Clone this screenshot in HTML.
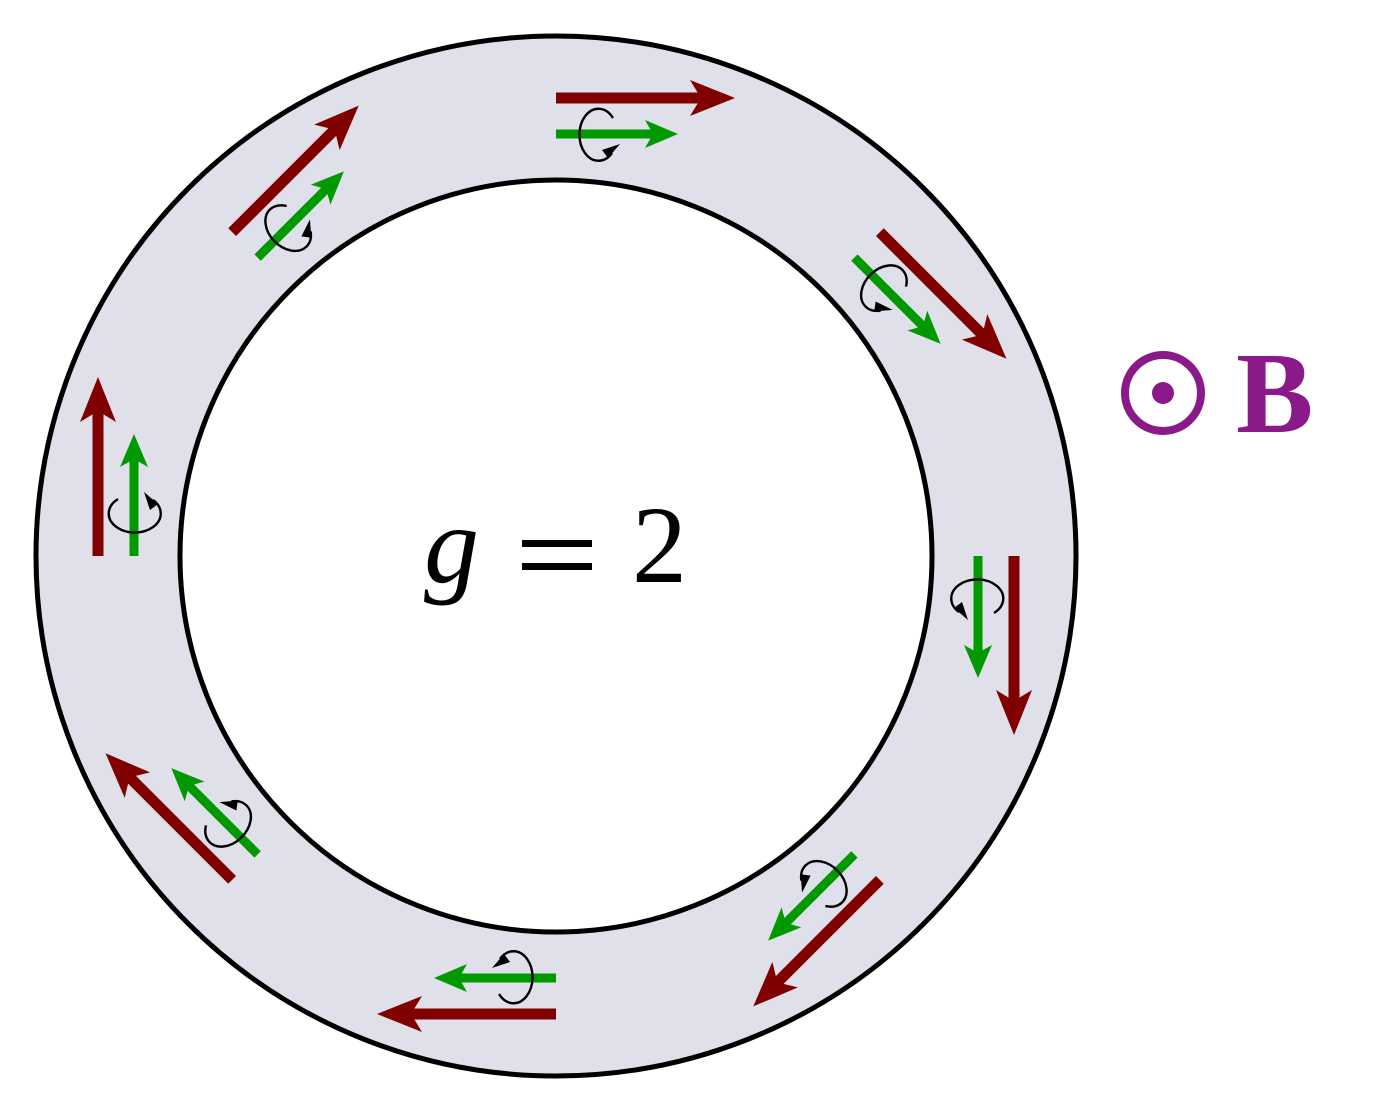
<!DOCTYPE html>
<html><head><meta charset="utf-8"><style>html,body{margin:0;padding:0;background:#fff}svg{display:block}</style></head>
<body>
<svg width="1400" height="1113" viewBox="0 0 1400 1113" xmlns="http://www.w3.org/2000/svg">
<defs>
<g id="grp">
  <line x1="0" y1="-458" x2="150" y2="-458" stroke="#800000" stroke-width="11"/>
  <polygon points="179,-458 134,-440 145,-458 134,-476" fill="#800000"/>
  <line x1="0" y1="-422" x2="100" y2="-422" stroke="#009900" stroke-width="9"/>
  <polygon points="122,-422 89,-408 97,-422 89,-436" fill="#009900"/>
  <path d="M 57 -438 A 19 26 0 1 0 56 -403" fill="none" stroke="#000" stroke-width="2.4"/>
  <polygon points="64,-412 52,-398 46,-406" fill="#000"/>
</g>
</defs>
<circle cx="556" cy="556" r="520" fill="#dfe0ea" stroke="#000" stroke-width="5"/>
<circle cx="556" cy="556" r="376" fill="#fff" stroke="#000" stroke-width="5"/>
<g transform="translate(556,556)">
  <use href="#grp"/>
  <use href="#grp" transform="rotate(45)"/>
  <use href="#grp" transform="rotate(90)"/>
  <use href="#grp" transform="rotate(135)"/>
  <use href="#grp" transform="rotate(180)"/>
  <use href="#grp" transform="rotate(225)"/>
  <use href="#grp" transform="rotate(270)"/>
  <use href="#grp" transform="rotate(315)"/>
</g>
<text x="424" y="582" style="font-family:'Liberation Serif',serif;font-style:italic" font-size="110">g</text>
<rect x="522" y="540" width="70" height="7" fill="#000"/>
<rect x="522" y="563" width="70" height="7" fill="#000"/>
<text x="632" y="582" style="font-family:'Liberation Serif',serif" font-size="110">2</text>
<circle cx="1163" cy="393" r="38" fill="none" stroke="#8a1a8a" stroke-width="8"/>
<circle cx="1163" cy="393" r="11" fill="#8a1a8a"/>
<text x="1236" y="432" style="font-family:'Liberation Serif',serif;font-weight:bold" font-size="116" fill="#8a1a8a">B</text>
</svg>
</body></html>
